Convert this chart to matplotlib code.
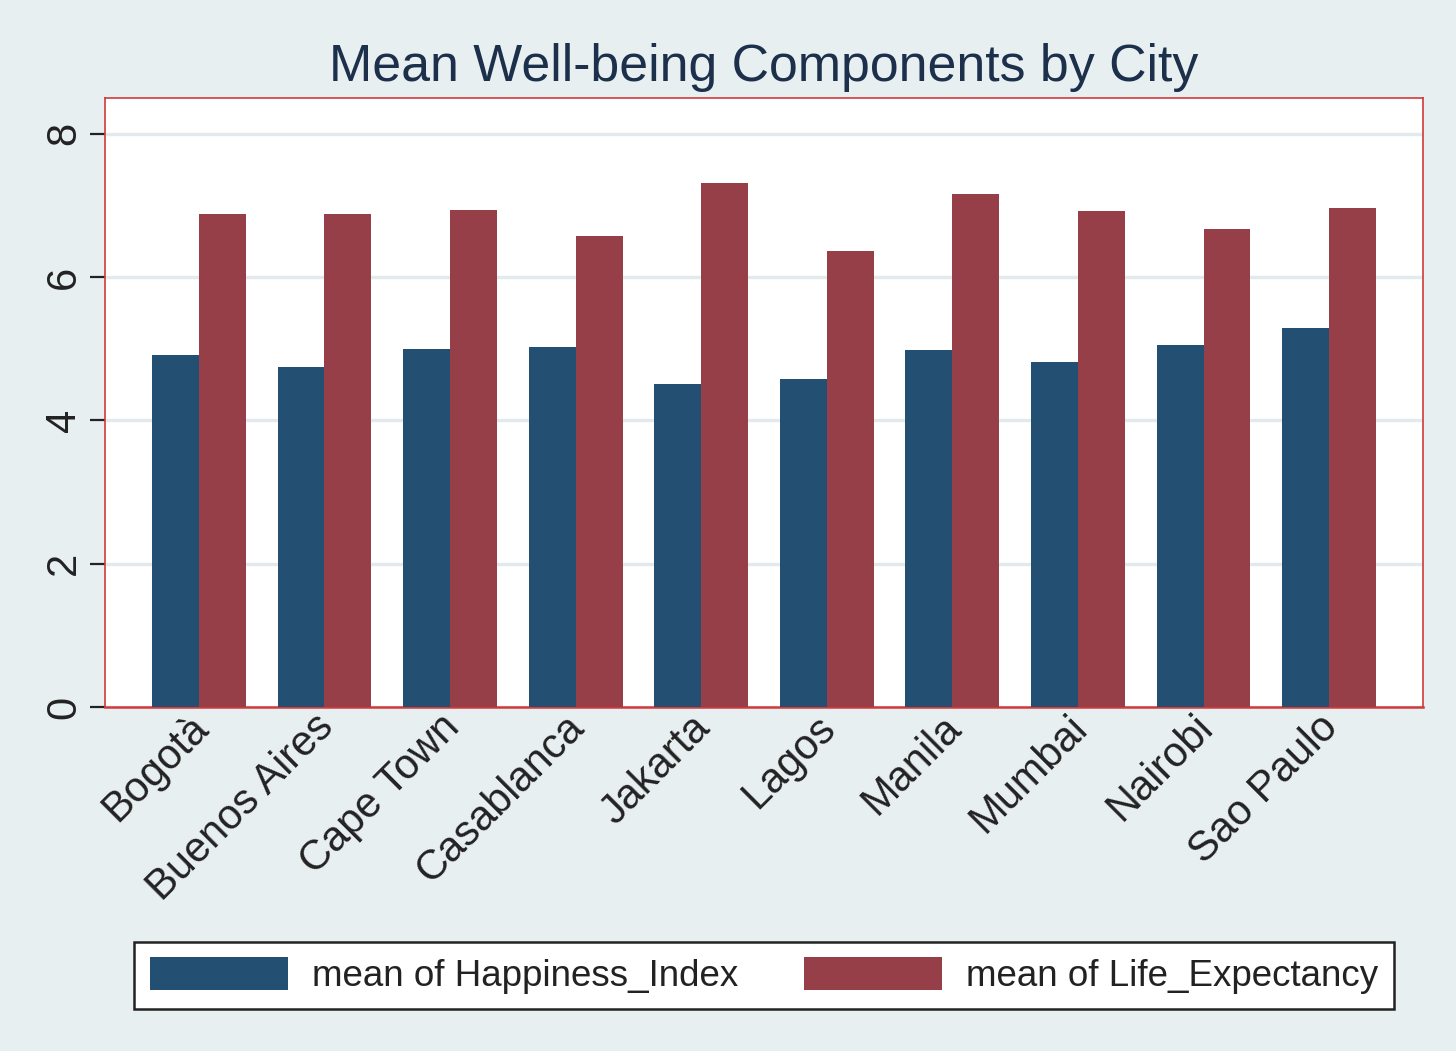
import numpy as np
import matplotlib.pyplot as plt
from matplotlib.patches import Patch
from matplotlib.transforms import ScaledTranslation

plt.rcParams['font.family'] = ['Liberation Sans', 'DejaVu Sans']

cities = ['Bogotà', 'Buenos Aires', 'Cape Town', 'Casablanca', 'Jakarta',
          'Lagos', 'Manila', 'Mumbai', 'Nairobi', 'Sao Paulo']
happiness = [4.91, 4.74, 5.00, 5.02, 4.51, 4.58, 4.98, 4.82, 5.05, 5.29]
life_exp = [6.88, 6.88, 6.94, 6.58, 7.32, 6.37, 7.16, 6.92, 6.67, 6.96]
yticks = [0, 2, 4, 6, 8]

blue = '#234f73'
red = '#973f48'
bg = '#e8eff1'

fig = plt.figure(figsize=(14.56, 10.51), dpi=100, facecolor=bg)
ax = fig.add_axes([105 / 1456, 1 - 707 / 1051, 1318 / 1456, 609 / 1051])
ax.set_facecolor('white')

x = np.arange(len(cities))
w = 0.374
ax.bar(x - w / 2, happiness, w, color=blue, zorder=3)
ax.bar(x + w / 2, life_exp, w, color=red, zorder=3)

ax.set_xlim(-0.748, len(cities) - 1 + 0.748)
ax.set_ylim(0, 8.5)
ax.set_yticks(yticks)
ax.set_yticklabels([str(v) for v in yticks], rotation=90, va='center',
                   fontsize=30, color='#222222')
ax.yaxis.grid(True, color='#e2eaee', linewidth=2.5, zorder=0)
ax.tick_params(axis='y', length=11, width=1.6, color='#222222', pad=4)

ax.set_xticks(x)
ax.set_xticklabels(cities, rotation=45, ha='right', rotation_mode='anchor',
                   fontsize=30, color='#222222')
ax.tick_params(axis='x', length=0, pad=3)
shift = ScaledTranslation(-0.11, 0.04, fig.dpi_scale_trans)
for lab in ax.get_xticklabels():
    lab.set_transform(lab.get_transform() + shift)

for s in ax.spines.values():
    s.set_color('#d23a3a')
    s.set_linewidth(1.2)
ax.spines['bottom'].set_linewidth(1.8)

fig.text(764 / 1456, 1 - 67 / 1051, 'Mean Well-being Components by City',
         ha='center', va='center', fontsize=37.4, color='#1c2f4b')

handles = [Patch(facecolor=blue), Patch(facecolor=red)]
leg = fig.legend(handles, ['mean of Happiness_Index', 'mean of Life_Expectancy'],
                 loc='center', bbox_to_anchor=(764 / 1456, 1 - 975.5 / 1051),
                 ncol=2, fontsize=26.5, frameon=True, fancybox=False,
                 handlelength=3.75, handleheight=0.98, handletextpad=0.65,
                 columnspacing=1.8, borderpad=0.42, borderaxespad=0)
leg.get_frame().set_edgecolor('#222222')
leg.get_frame().set_linewidth(1.8)
leg.get_frame().set_facecolor('white')
leg.get_frame().set_alpha(1)
for t in leg.get_texts():
    t.set_color('#222222')

fig.savefig('out.png', dpi=100, facecolor=bg)
